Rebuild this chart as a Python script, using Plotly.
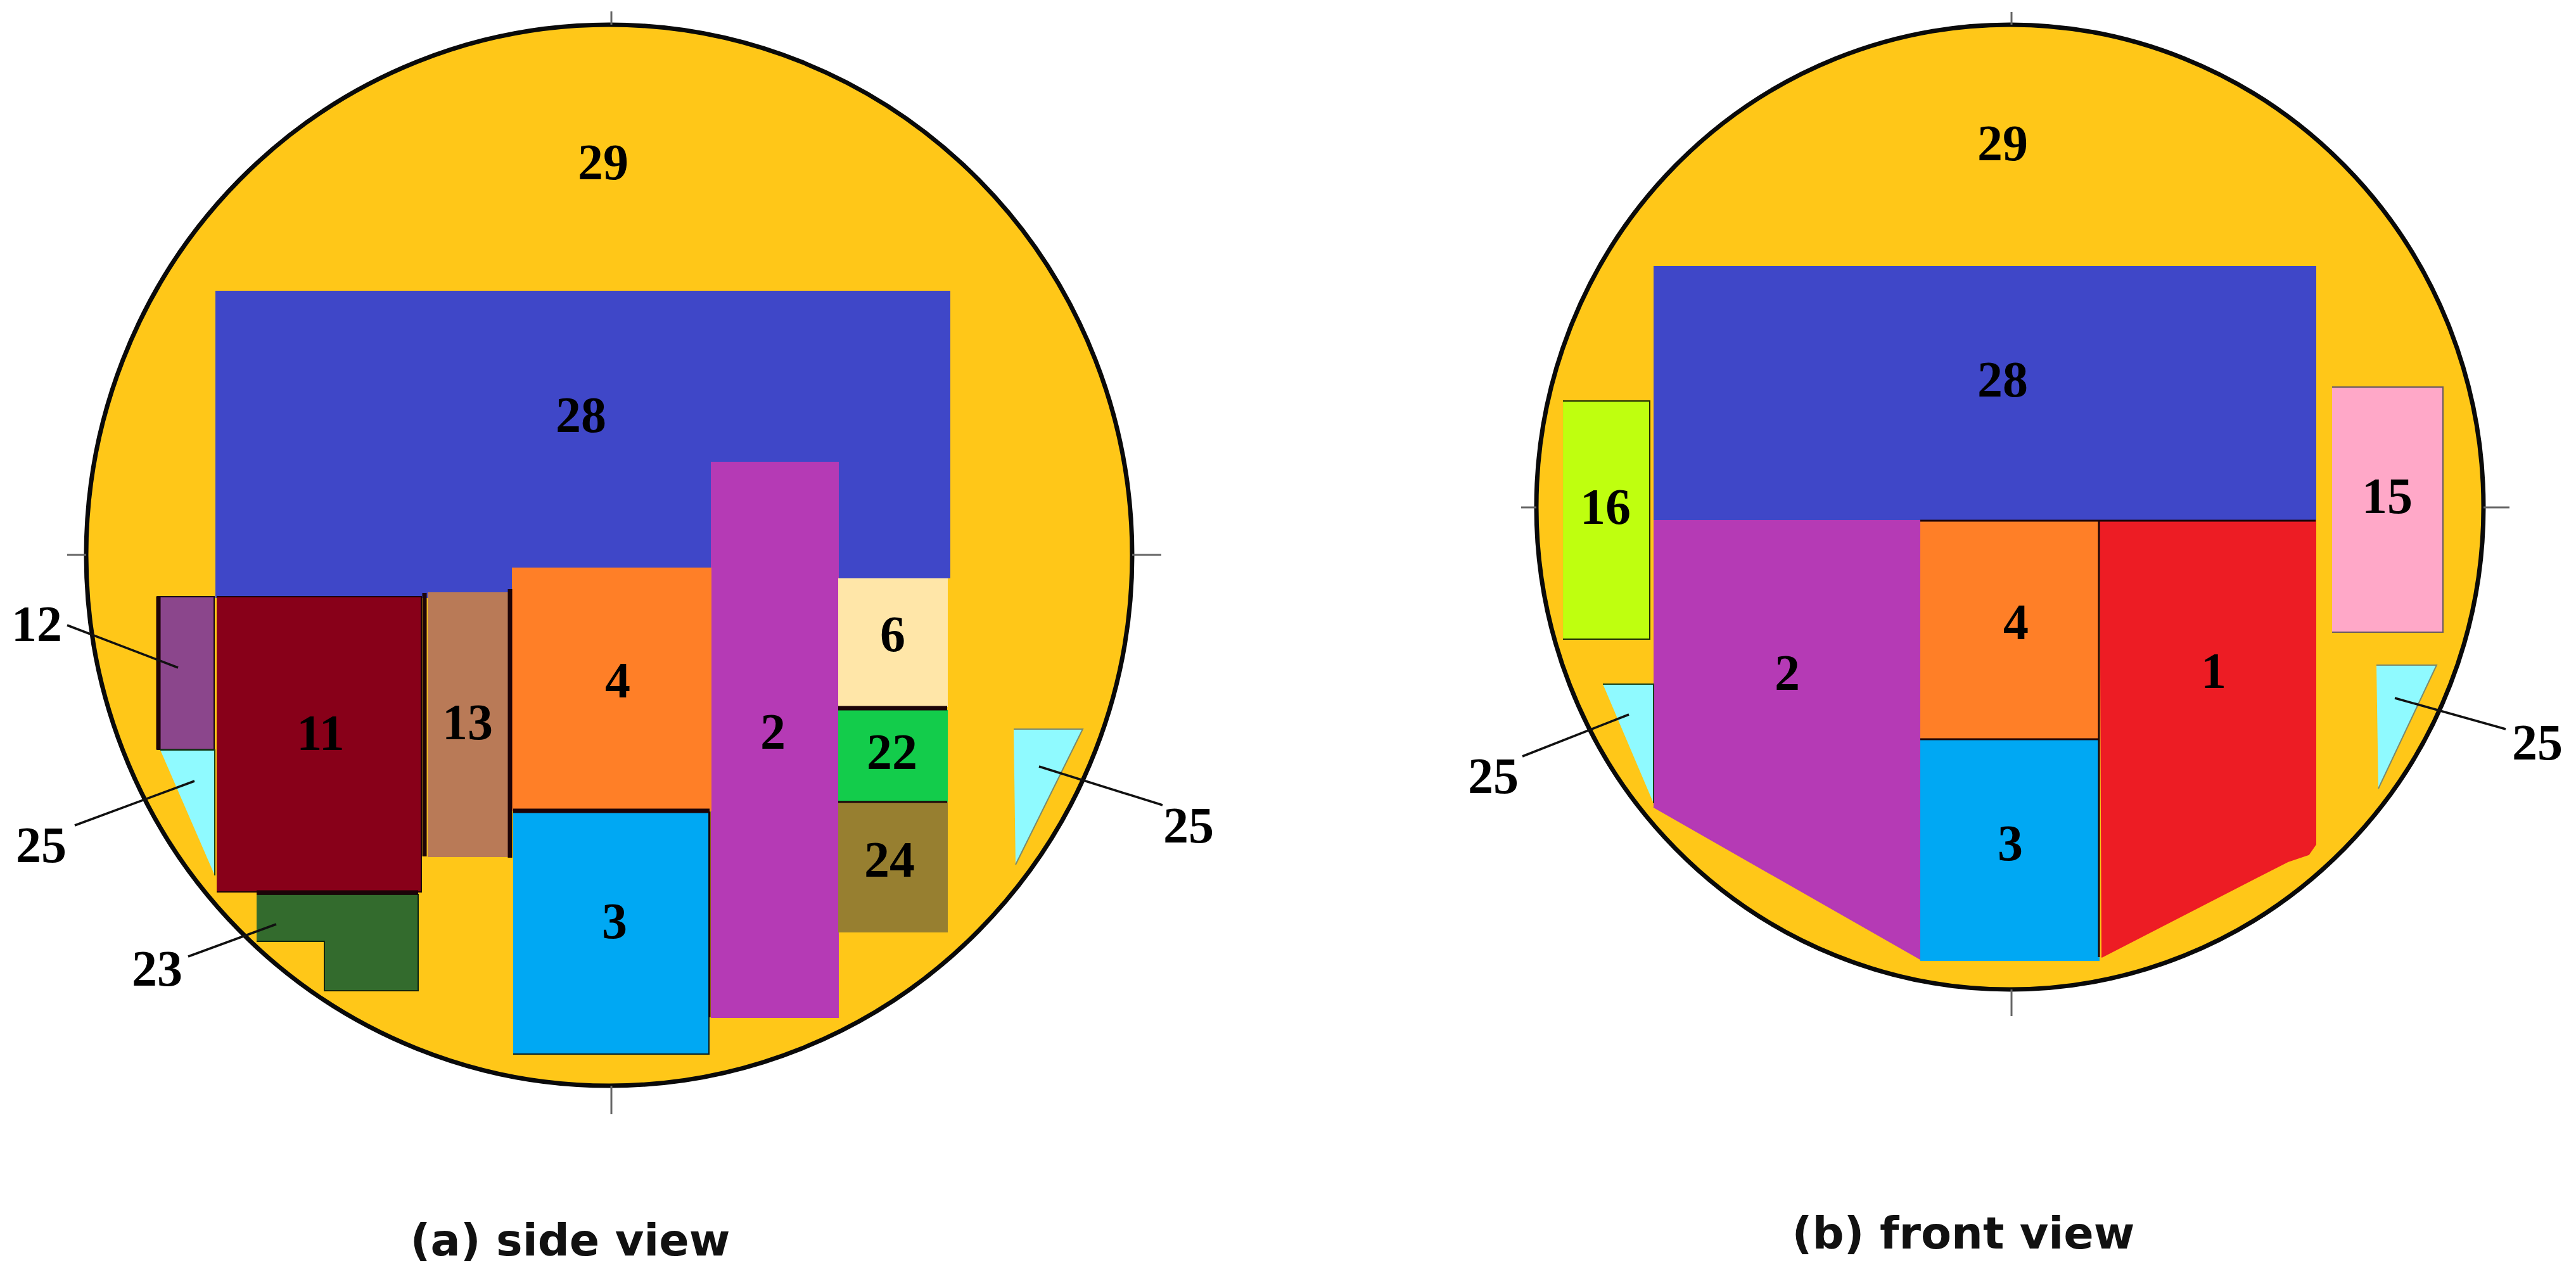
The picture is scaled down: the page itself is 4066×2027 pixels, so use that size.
import plotly.graph_objects as go

# regions in page pixels, drawn back to front
side_labels = ["28", "2", "4", "3", "6", "22", "24", "13", "12", "11", "23", "25", "25"]
side_colors = ["#3f47c8", "#b53ab5", "#ff7f27", "#00a8f3", "#ffe6a8", "#13cc4b", "#977f30",
               "#b97a57", "#8b468c", "#880019", "#336b2d", "#8ffaff", "#8ffaff"]
side_borders = ["#3f47c8", "#b53ab5", "#ff7f27", "#06202a", "#ffe6a8", "#13cc4b", "#977f30",
                "#b97a57", "#1c0810", "#1c0408", "#10240e", "#14401c", "#7a8a70"]
side_x = [
    [340, 1499, 1499, 1122, 1122, 340],
    [1122, 1323, 1323, 1122],
    [808, 1122, 1122, 808],
    [810, 1119, 1119, 810],
    [1323, 1495, 1495, 1323],
    [1323, 1495, 1495, 1323],
    [1323, 1495, 1495, 1323],
    [675, 801, 801, 675],
    [247, 338, 338, 247],
    [342, 665, 665, 342],
    [405, 660, 660, 512, 512, 405],
    [253, 339, 339],
    [1600, 1709, 1603],
]
side_y = [
    [460, 460, 912, 912, 943, 943],
    [730, 730, 1606, 1606],
    [897, 897, 1279, 1279],
    [1281, 1281, 1664, 1664],
    [914, 914, 1115, 1115],
    [1122, 1122, 1265, 1265],
    [1267, 1267, 1471, 1471],
    [936, 936, 1352, 1352],
    [942, 942, 1183, 1183],
    [942, 942, 1408, 1408],
    [1412, 1412, 1564, 1564, 1486, 1486],
    [1184, 1184, 1382],
    [1151, 1151, 1365],
]

front_labels = ["28", "2", "4", "3", "1", "16", "15", "25", "25"]
front_colors = ["#3f47c8", "#b53ab5", "#ff7f27", "#00a8f3", "#ed1c24", "#bfff0f", "#ffa8c8",
                "#8ffaff", "#8ffaff"]
front_borders = ["#3f47c8", "#b53ab5", "#ff7f27", "#00a8f3", "#ed1c24", "#1a2a04", "#6a5a60",
                 "#14401c", "#7a8a70"]
front_x = [
    [2610, 3655, 3655, 2610],
    [2610, 3031, 3031, 2610],
    [3031, 3313, 3313, 3031],
    [3031, 3313, 3313, 3031],
    [3314, 3655, 3655, 3644, 3611, 3317],
    [2467, 2604, 2604, 2467],
    [3681, 3856, 3856, 3681],
    [2530, 2610, 2610],
    [3751, 3846, 3754],
]
front_y = [
    [421, 421, 822, 822],
    [822, 822, 1514, 1274],
    [822, 822, 1165, 1165],
    [1169, 1169, 1516, 1516],
    [822, 822, 1333, 1349, 1360, 1511],
    [633, 633, 1009, 1009],
    [611, 611, 998, 998],
    [1080, 1080, 1268],
    [1050, 1050, 1245],
]

# leader lines and cross hair ticks: x0, y0, x1, y1
leaders = [
    [106, 987, 281, 1054],
    [118, 1303, 307, 1233],
    [297, 1510, 436, 1459],
    [1640, 1210, 1835, 1271],
    [2403, 1194, 2571, 1128],
    [3780, 1102, 3955, 1151],
]
ticks = [
    [965, 18, 965, 39],
    [965, 1714, 965, 1759],
    [106, 876, 136, 876],
    [1787, 876, 1833, 876],
    [3175, 19, 3175, 39],
    [3175, 1562, 3175, 1604],
    [2401, 801, 2425, 801],
    [3920, 801, 3961, 801],
]
# thick black edges drawn over the fills
thick_edges = [
    [670, 936, 670, 1352],
    [805, 930, 805, 1354],
    [405, 1409, 660, 1409],
    [1323, 1118, 1495, 1118],
    [250, 942, 250, 1183],
    [810, 1280, 1120, 1280],
]
thin_edges = [
    [3313, 822, 3313, 1511],
    [3031, 1167, 3313, 1167],
    [3031, 822, 3655, 822],
    [1120, 1281, 1120, 1606],
    [1323, 1266, 1495, 1266],
]

text_labels = ["29", "28", "11", "13", "4", "2", "6", "22", "24", "3", "12", "25", "23", "25",
               "29", "28", "16", "15", "4", "2", "1", "3", "25", "25"]
text_x = [952, 917, 506, 738, 975, 1220, 1409, 1408, 1404, 970, 58, 65, 248, 1876,
          3161, 3161, 2534, 3768, 3182, 2821, 3494, 3173, 2357, 4005]
text_y = [263, 662, 1164, 1147, 1081, 1162, 1008, 1194, 1364, 1461, 992, 1341, 1536, 1310,
          233, 606, 807, 790, 989, 1069, 1066, 1338, 1232, 1179]

captions = ["(a) side view", "(b) front view"]
caption_x = [900, 3099]
caption_y = [1964, 1953]

fig = go.Figure()


def add_regions(xs, ys, colors, borders):
    for x, y, c, b in zip(xs, ys, colors, borders):
        fig.add_trace(go.Scatter(x=x, y=y, mode="lines", fill="toself", fillcolor=c,
                                 line=dict(color=b, width=2), hoverinfo="skip"))


def add_lines(segs, color, width):
    for s in segs:
        fig.add_trace(go.Scatter(x=[s[0], s[2]], y=[s[1], s[3]], mode="lines",
                                 line=dict(color=color, width=width), hoverinfo="skip"))


add_regions(side_x, side_y, side_colors, side_borders)
add_regions(front_x, front_y, front_colors, front_borders)
add_lines(thick_edges, "#1c0408", 7)
add_lines(thin_edges, "#1c0408", 3)
add_lines(leaders, "#111111", 3.5)
add_lines(ticks, "#666666", 3)

fig.add_trace(go.Scatter(x=text_x, y=text_y, mode="text", text=text_labels, hoverinfo="skip",
                         textfont=dict(family="Liberation Serif", size=80, color="#000000",
                                       weight="bold")))
fig.add_trace(go.Scatter(x=caption_x, y=caption_y, mode="text", text=captions, hoverinfo="skip",
                         textfont=dict(family="DejaVu Sans", size=70, color="#111111",
                                       weight="bold")))

# the two discs
fig.add_shape(type="circle", x0=136, x1=1787, y0=39, y1=1714, layer="below",
              fillcolor="#ffc718", line=dict(color="#0a0a0a", width=7))
fig.add_shape(type="circle", x0=2425, x1=3920, y0=39, y1=1562, layer="below",
              fillcolor="#ffc718", line=dict(color="#0a0a0a", width=7))

fig.update_layout(
    width=4066, height=2027, margin=dict(l=0, r=0, t=0, b=0),
    paper_bgcolor="white", plot_bgcolor="white", showlegend=False,
    xaxis=dict(range=[0, 4066], visible=False),
    yaxis=dict(range=[2027, 0], visible=False),
)

fig.write_html("out.html", config=dict(displayModeBar=False),
               post_script="document.body.style.margin='0';")
